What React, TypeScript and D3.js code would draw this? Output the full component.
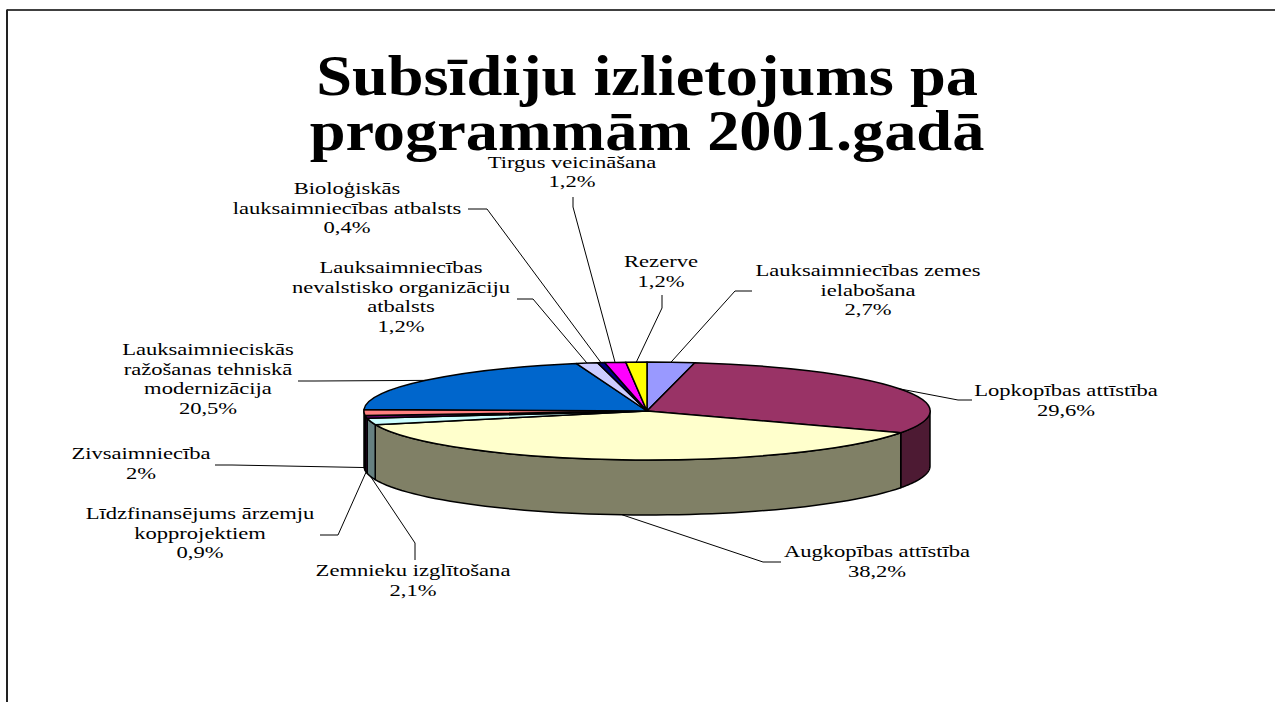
import React from 'react';
import * as d3 from 'd3';

// ---------- data ----------
const categoryLines: string[][] = [
  ['Lauksaimniecības zemes', 'ielabošana'],
  ['Lopkopības attīstība'],
  ['Augkopības attīstība'],
  ['Zemnieku izglītošana'],
  ['Līdzfinansējums ārzemju', 'kopprojektiem'],
  ['Zivsaimniecība'],
  ['Lauksaimnieciskās', 'ražošanas tehniskā', 'modernizācija'],
  ['Lauksaimniecības', 'nevalstisko organizāciju', 'atbalsts'],
  ['Bioloģiskās', 'lauksaimniecības atbalsts'],
  ['Tirgus veicināšana'],
  ['Rezerve'],
];
const values = [2.7, 29.6, 38.2, 2.1, 0.9, 2, 20.5, 1.2, 0.4, 1.2, 1.2];
const titleLines = ['Subsīdiju izlietojums pa', 'programmām 2001.gadā'];

// ---------- styles ----------
const topColors = ['#9999FF', '#993366', '#FFFFCC', '#CCFFFF', '#660066', '#FF8080', '#0066CC', '#CCCCFF', '#000080', '#FF00FF', '#FFFF00'];
const sideColors = ['#4D4D80', '#4D1A33', '#808066', '#668080', '#330033', '#804040', '#003366', '#666680', '#000040', '#800080', '#808000'];

// label layout: first-line baseline position (centre x), label-side leader end and elbow
const LABEL_LAYOUT: { x: number; y: number; end: [number, number]; elbow: [number, number] }[] = [
  { x: 868, y: 276, end: [752, 291], elbow: [735, 291] },
  { x: 1066, y: 396, end: [972, 400], elbow: [958, 400] },
  { x: 877, y: 557, end: [781, 562], elbow: [763, 562] },
  { x: 413, y: 576, end: [415, 560], elbow: [415, 543] },
  { x: 200, y: 519, end: [320, 535], elbow: [338, 535] },
  { x: 141, y: 459, end: [215, 465], elbow: [232, 465] },
  { x: 208, y: 355, end: [298, 381], elbow: [315, 381] },
  { x: 401, y: 273, end: [517, 299], elbow: [533, 299] },
  { x: 347, y: 194, end: [468, 209], elbow: [487, 209] },
  { x: 572, y: 167.5, end: [573, 197], elbow: [573, 207] },
  { x: 661, y: 267, end: [662, 295], elbow: [662, 308] },
];

const W = 1275;
const H = 702;
const CX = 647;
const CY = 411;
const RX = 283;
const RY = 49;
const DEPTH = 55;
const STRETCH = 1.36;
const TITLE_FS = 58;
const TITLE_STRETCH = 1.11;
const LABEL_FS = 16.6;
const LINE_H = 19.6;
const FONT = '"Liberation Serif", "Times New Roman", serif';

const fmt = (v: number) => (Number.isInteger(v) ? `${v}%` : `${v.toFixed(1).replace('.', ',')}%`);

const pt = (a: number, dy = 0): [number, number] => [CX + RX * Math.sin(a), CY - RY * Math.cos(a) + dy];

export default function App() {
  const arcs = d3.pie<number>().sort(null).value((d) => d)(values);
  const unitArc = d3.arc<d3.PieArcDatum<number>>().innerRadius(0).outerRadius(1);
  const line = d3.line<[number, number]>();

  // side walls (front half: angles between PI/2 and 3PI/2)
  const walls = arcs
    .map((a, i) => {
      const a0 = Math.max(a.startAngle, Math.PI / 2);
      const a1 = Math.min(a.endAngle, (3 * Math.PI) / 2);
      if (a1 <= a0) return null;
      const n = 60;
      const top = d3.range(n + 1).map((k) => pt(a0 + ((a1 - a0) * k) / n));
      const bot = d3.range(n + 1).map((k) => pt(a1 - ((a1 - a0) * k) / n, DEPTH));
      return { i, d: line([...top, ...bot])! + 'Z' };
    })
    .filter(Boolean) as { i: number; d: string }[];

  return (
    <svg width={W} height={H} style={{ position: 'absolute', left: 0, top: 0, background: '#fff' }}>
      {/* frame */}
      <line x1={7} y1={10} x2={W} y2={10} stroke="#000" strokeWidth={1.5} />
      <line x1={7} y1={9.5} x2={7} y2={H} stroke="#222" strokeWidth={2} />

      {/* title */}
      {titleLines.map((t, i) => (
        <text
          key={i}
          transform={`translate(${CX},${95 + i * 55}) scale(${TITLE_STRETCH},1)`}
          textAnchor="middle"
          fontFamily={FONT}
          fontWeight="bold"
          fontSize={TITLE_FS}
        >
          {t}
        </text>
      ))}

      {/* walls */}
      {walls.map((w) => (
        <path key={`w${w.i}`} d={w.d} fill={sideColors[w.i]} stroke="#000" strokeWidth={1.5} strokeLinejoin="round" />
      ))}

      {/* top faces */}
      <g transform={`translate(${CX},${CY}) scale(${RX},${RY})`}>
        {arcs.map((a, i) => (
          <path
            key={`t${i}`}
            d={unitArc(a)!}
            fill={topColors[i]}
            stroke="#000"
            strokeWidth={1.5}
            strokeLinejoin="round"
            vectorEffect="non-scaling-stroke"
          />
        ))}
      </g>

      {/* leaders */}
      {arcs.map((a, i) => {
        const m = (a.startAngle + a.endAngle) / 2;
        const anchor = Math.cos(m) < 0 ? pt(m, DEPTH) : pt(m);
        const L = LABEL_LAYOUT[i];
        return (
          <polyline
            key={`l${i}`}
            points={[L.end, L.elbow, anchor].map((p) => p.join(',')).join(' ')}
            fill="none"
            stroke="#000"
            strokeWidth={1}
          />
        );
      })}

      {/* labels */}
      {arcs.map((a, i) => {
        const L = LABEL_LAYOUT[i];
        const lines = [...categoryLines[i], fmt(values[i])];
        return (
          <g key={`lb${i}`}>
            {lines.map((t, k) => (
              <text
                key={k}
                transform={`translate(${L.x},${L.y + k * LINE_H}) scale(${STRETCH},1)`}
                textAnchor="middle"
                fontFamily={FONT}
                fontSize={LABEL_FS}
                fill="#000"
              >
                {t}
              </text>
            ))}
          </g>
        );
      })}
    </svg>
  );
}
